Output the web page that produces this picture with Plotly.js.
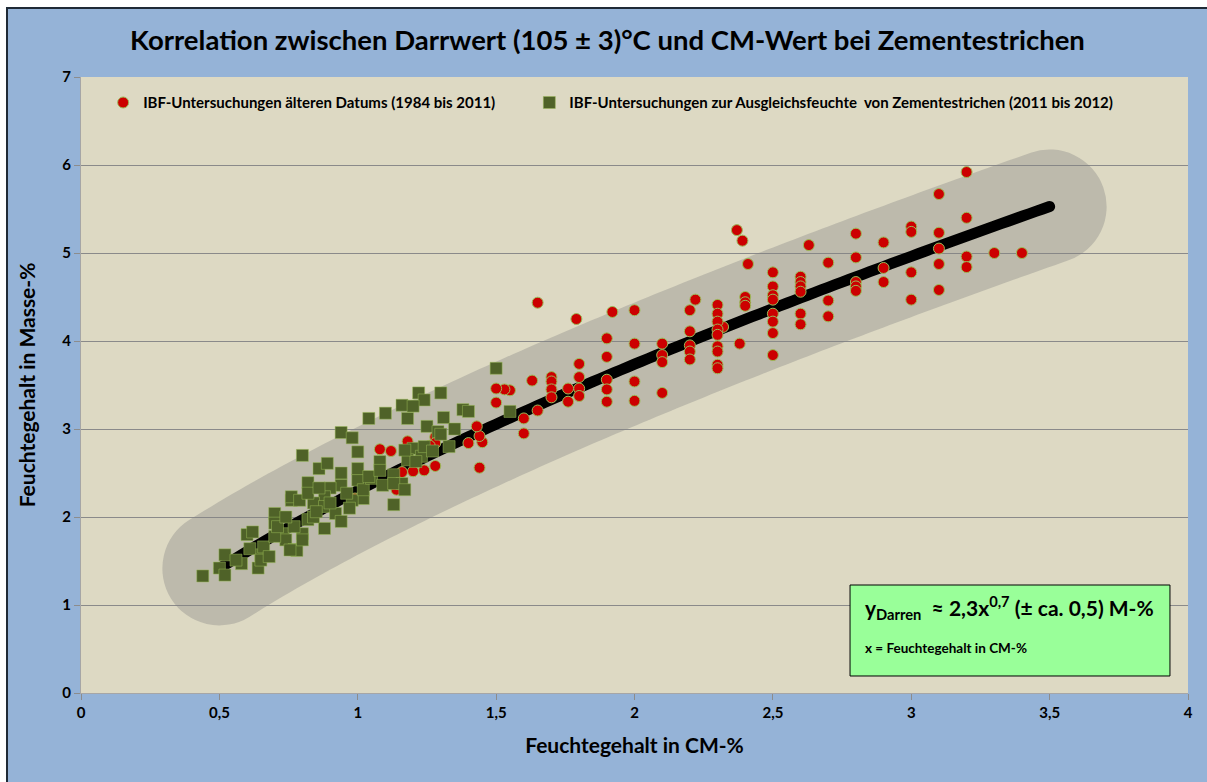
<!DOCTYPE html>
<html>
<head>
<meta charset="utf-8">
<script src="https://cdn.plot.ly/plotly-3.0.1.min.js"></script>
<style>
html,body{margin:0;padding:0;background:#ffffff;width:1207px;height:782px;overflow:hidden;}
#frame{position:absolute;left:6px;top:7px;width:1201px;height:775px;border-left:2px solid #1f2a36;border-top:2px solid #1f2a36;box-sizing:border-box;background:#95b3d7;}
#chart{position:absolute;left:0;top:0;width:1199px;height:773px;}
</style>
</head>
<body>
<div id="frame"><div id="chart"></div></div>
<script>
// ---- data ----
const oldX = [3.2,3.2,3.2,3.2, 3.1,3.1,3.1,3.1,3.1, 3.0,3.0,3.0,3.0, 2.9,2.9,2.9, 2.8,2.8,2.8,2.8,2.8,
  2.7,2.7,2.7, 2.63, 2.6,2.6,2.6,2.6,2.6,2.6, 2.5,2.5,2.5,2.5,2.5,2.5,2.5,2.5, 2.4,2.4,2.4, 2.41, 2.37, 2.39, 2.38, 2.32,
  2.3,2.3,2.3,2.3,2.3,2.3,2.3,2.3,2.3, 2.22, 2.2,2.2,2.2,2.2,2.2, 2.1,2.1,2.1,2.1, 2.0,2.0,2.0,2.0, 1.92,
  1.9,1.9,1.9,1.9,1.9, 1.8,1.8,1.8,1.8, 1.79, 1.76,1.76, 1.7,1.7,1.7,1.7, 1.65,1.65, 1.63, 1.6,1.6, 1.55, 1.53, 1.5,1.5,
  1.45, 1.44,1.44, 1.43, 1.40, 1.28,1.28,1.28, 1.26, 1.24, 1.20, 1.18, 1.16, 1.14, 1.12, 1.08, 0.99, 3.3, 3.4];
const oldY = [5.92,5.40,4.96,4.84, 5.67,5.23,5.05,4.875,4.58, 5.30,5.24,4.78,4.47, 5.12,4.83,4.67, 5.22,4.95,4.67,4.62,4.57,
  4.89,4.46,4.28, 5.09, 4.73,4.67,4.62,4.56,4.31,4.19, 4.78,4.62,4.52,4.47,4.31,4.22,4.09,3.84, 4.50,4.44,4.40, 4.875, 5.26, 5.14, 3.97, 4.16,
  4.41,4.31,4.22,4.13,4.07,3.94,3.88,3.73,3.69, 4.47, 4.35,4.11,3.95,3.88,3.79, 3.97,3.84,3.76,3.41, 4.35,3.97,3.54,3.32, 4.33,
  4.03,3.82,3.56,3.45,3.31, 3.74,3.59,3.46,3.375, 4.25, 3.46,3.31, 3.59,3.54,3.45,3.36, 4.435,3.21, 3.55, 3.12,2.95, 3.44, 3.45, 3.46,3.30,
  2.85, 2.92,2.56, 3.03, 2.84, 2.91,2.84,2.58, 2.81, 2.53, 2.52, 2.86, 2.51, 2.31, 2.75, 2.77, 2.21, 5.0, 5.0];

const newX = [0.44,0.52,0.50,0.52,0.58,0.64,0.60,0.62,0.65,0.66,0.70,0.70,0.73,0.74,0.77,0.78,0.76,0.76,0.80,0.82,
  0.86,0.89,0.94,0.98,1.00,1.04,1.10,1.18,1.16,1.22,1.24,1.20,1.30,1.31,1.25,1.29,1.35,1.38,1.40,1.50,
  1.33,1.20,1.23,1.18,1.21,1.13,1.16,1.13,1.08,1.00,1.02,0.98,0.94,0.94,0.90,0.88,0.84,0.88,0.92,0.94,
  0.88,0.82,0.80,0.77,0.80,0.84,0.97,1.02,1.05,1.09,1.17,1.24,1.00,1.04,0.96,1.08,1.13,1.17,0.70,0.61,
  0.56,0.65,0.71,0.74,0.79,0.82,0.86,0.90,0.85,1.55,1.30,1.27,0.68,0.755];
const newY = [1.33,1.57,1.42,1.34,1.47,1.42,1.80,1.83,1.57,1.66,2.04,1.93,1.81,1.74,1.63,1.62,2.19,2.23,2.70,2.39,
  2.55,2.61,2.96,2.90,2.74,3.12,3.18,3.12,3.27,3.41,3.33,3.26,3.41,3.13,3.03,2.97,3.00,3.22,3.20,3.69,
  2.80,2.78,2.69,2.65,2.63,2.48,2.38,2.14,2.63,2.42,2.21,2.19,2.50,2.36,2.33,2.23,2.16,2.12,2.04,1.95,
  1.87,1.97,1.81,1.89,1.74,2.00,2.10,2.31,2.44,2.36,2.76,2.80,2.55,2.46,2.27,2.53,2.38,2.31,1.78,1.64,
  1.51,1.51,1.89,2.00,2.19,2.27,2.33,2.16,2.06,3.20,2.94,2.75,1.55,1.625];

// regression shown in the chart: y = 2.3 * x^0.7, drawn from x = 0.5 to 3.5
const fitA = 2.3, fitB = 0.7;
const fitRange = [0.5, 3.5];
const fitX = [], fitY = [];
for (let i = 0; i <= 120; i++) {
  const x = fitRange[0] + (fitRange[1] - fitRange[0]) * i / 120;
  fitX.push(x); fitY.push(fitA * Math.pow(x, fitB));
}

const xTicks = [0,0.5,1,1.5,2,2.5,3,3.5,4];
const yTicks = [0,1,2,3,4,5,6,7];

const legendOld = 'IBF-Untersuchungen älteren Datums (1984 bis 2011)';
const legendNew = 'IBF-Untersuchungen zur Ausgleichsfeuchte  von Zementestrichen (2011 bis 2012)';
const titleText = 'Korrelation zwischen Darrwert (105 ± 3)°C und CM-Wert bei Zementestrichen';

const FONT = 'Lato, "Open Sans", "DejaVu Sans", sans-serif';

const traces = [
  {x: fitX, y: fitY, mode: 'lines', line: {color: 'rgba(128,128,128,0.35)', width: 114, simplify: false}, showlegend: false, hoverinfo: 'skip'},
  {x: fitX, y: fitY, mode: 'lines', line: {color: '#000000', width: 11, simplify: false}, showlegend: false, hoverinfo: 'skip'},
  {x: oldX, y: oldY, mode: 'markers', name: legendOld, legend: 'legend',
   marker: {symbol: 'circle', size: 11, color: '#cc0000', line: {color: '#9bbb59', width: 1}}},
  {x: newX, y: newY, mode: 'markers', name: legendNew, legend: 'legend2',
   marker: {symbol: 'square', size: 12, color: '#4f6228', line: {color: '#9bbb59', width: 0.5}}}
];

const legendCommon = {orientation: 'h', yanchor: 'top', y: 0.985, xanchor: 'left', bgcolor: 'rgba(0,0,0,0)',
  font: {family: FONT, size: 15, weight: 700}, itemwidth: 30};

const layout = {
  width: 1199, height: 773,
  margin: {l: 73, r: 19, t: 68, b: 89},
  paper_bgcolor: '#95b3d7',
  plot_bgcolor: '#ddd9c3',
  separators: ',.',
  font: {family: FONT, color: '#000000'},
  title: {text: titleText, x: 0.5, xref: 'container', y: 0.96, yref: 'container', yanchor: 'middle',
          font: {family: FONT, size: 27.5, weight: 700, color: '#000000'}},
  xaxis: {range: [0, 4], tickvals: xTicks, ticks: 'outside', ticklen: 6, tickcolor: '#8c8c8c',
          showline: true, linecolor: '#a6a6a6', linewidth: 1, showgrid: false, zeroline: false,
          tickfont: {family: FONT, size: 15, weight: 700}, fixedrange: true,
          title: {text: 'Feuchtegehalt in CM-%', font: {family: FONT, size: 21, weight: 700}, standoff: 18}},
  yaxis: {range: [0, 7], tickvals: yTicks, ticks: 'outside', ticklen: 6, tickcolor: '#8c8c8c',
          showline: true, linecolor: '#a6a6a6', linewidth: 1, showgrid: true, gridcolor: '#8a8a8a', gridwidth: 1,
          zeroline: false, tickfont: {family: FONT, size: 15, weight: 700}, fixedrange: true,
          title: {text: 'Feuchtegehalt in Masse-%', font: {family: FONT, size: 21, weight: 700}, standoff: 20}},
  legend: Object.assign({}, legendCommon, {x: 0.02}),
  legend2: Object.assign({}, legendCommon, {x: 0.405}),
  shapes: [
    {type: 'rect', xref: 'paper', yref: 'paper', x0: 0.6947, x1: 0.9837, y0: 0.0276, y1: 0.1753,
     fillcolor: '#99ff99', line: {color: '#000000', width: 1}, layer: 'above'}
  ],
  annotations: [
    {xref: 'paper', yref: 'paper', x: 0.7064, y: 0.139, xanchor: 'left', yanchor: 'middle', showarrow: false,
     text: 'y<sub>Darren</sub>  ≈ 2,3x<sup>0,7</sup> (± ca. 0,5) M-%', font: {family: FONT, size: 21, weight: 700}},
    {xref: 'paper', yref: 'paper', x: 0.7064, y: 0.073, xanchor: 'left', yanchor: 'middle', showarrow: false,
     text: 'x = Feuchtegehalt in CM-%', font: {family: FONT, size: 13.5, weight: 700}}
  ]
};

Plotly.newPlot('chart', traces, layout, {displayModeBar: false, staticPlot: true}).then(function () {
  const lines = document.querySelectorAll('.scatterlayer .trace .js-line');
  lines.forEach(function (p) { p.style.strokeLinecap = 'round'; p.style.strokeLinejoin = 'round'; });
});
</script>
</body>
</html>
